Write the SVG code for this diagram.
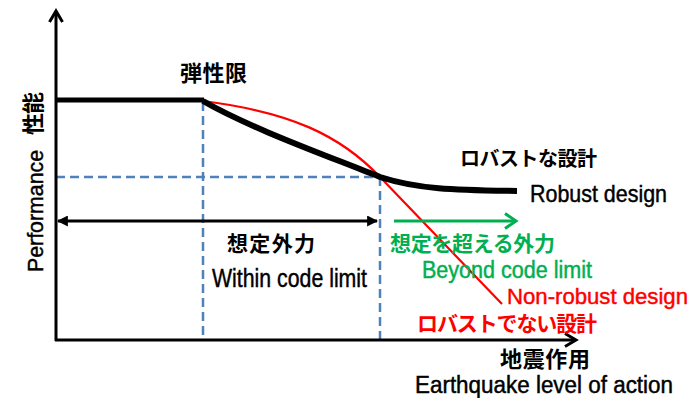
<svg xmlns="http://www.w3.org/2000/svg" width="693" height="398" viewBox="0 0 693 398">
  <style>
    .cjk { font-family: "Noto Sans CJK JP", "Noto Sans", sans-serif; font-weight: bold; }
    .en { font-family: "Liberation Sans", Arial, sans-serif; stroke-width: 0.45; }
    .axis { stroke: #000; stroke-width: 3; fill: none; }
    .dash { stroke: #4F81BD; stroke-width: 2.5; stroke-dasharray: 9 5; fill: none; }
    .blk { fill: #000; }
    .grn { fill: #00B050; }
    .red { fill: #FF0000; }
    .en.blk { stroke: #000; }
    .en.grn { stroke: #00B050; }
    .en.red { stroke: #FF0000; }
  </style>
  <defs>
    <marker id="tri" viewBox="0 0 10 10" refX="9" refY="5" markerUnits="userSpaceOnUse" markerWidth="11" markerHeight="11" orient="auto-start-reverse">
      <path d="M0,0 L10,5 L0,10 z" fill="#000"/>
    </marker>
  </defs>
  <rect width="693" height="398" fill="#fff"/>

  <g id="connectors">
    <!-- dashed guides -->
    <line class="dash" x1="203" y1="102" x2="203" y2="340"/>
    <line class="dash" x1="56" y1="177" x2="380" y2="177"/>
    <line class="dash" x1="380" y1="177" x2="380" y2="340"/>
    <!-- axes -->
    <line class="axis" x1="56" y1="341" x2="56" y2="12"/>
    <polyline class="axis" points="49.5,22 56,11 62.5,22"/>
    <line class="axis" x1="55" y1="340" x2="575" y2="340"/>
    <polyline class="axis" points="565,333.5 576,340 565,346.5"/>
    <!-- elastic plateau -->
    <line x1="56" y1="100" x2="204" y2="100" stroke="#000" stroke-width="5"/>
    <!-- non-robust curve -->
    <path d="M203,101 C290,112 340,135 380,177 L502,304" fill="none" stroke="#FF0000" stroke-width="2.2"/>
    <!-- robust curve -->
    <path d="M203,101 C250,128 320,153 380,177 C420,190 460,190 517,191" fill="none" stroke="#000" stroke-width="6"/>
    <!-- within code limit double arrow -->
    <line x1="58" y1="221" x2="377" y2="221" stroke="#000" stroke-width="3" marker-start="url(#tri)" marker-end="url(#tri)"/>
    <!-- beyond code limit arrow -->
    <line x1="394" y1="221" x2="515" y2="221" stroke="#00B050" stroke-width="3"/>
    <polyline points="505,213.5 516,221 505,228.5" fill="none" stroke="#00B050" stroke-width="3"/>
  </g>

  <g id="label-performance">
    <text class="en blk" font-size="22" transform="translate(43,272) rotate(-90)" textLength="122" lengthAdjust="spacingAndGlyphs">Performance</text>
    <text class="cjk blk" font-size="22" transform="translate(41,135) rotate(-90)" textLength="43">性能</text>
  </g>
  <g id="label-elastic">
    <text class="cjk blk" x="180" y="81" font-size="22" textLength="67">弾性限</text>
  </g>
  <g id="label-robust">
    <text class="cjk blk" x="460" y="166" font-size="20" textLength="137">ロバストな設計</text>
    <text class="en blk" x="530" y="202" font-size="24" textLength="137" lengthAdjust="spacingAndGlyphs">Robust design</text>
  </g>
  <g id="label-within">
    <text class="cjk blk" x="227" y="251" font-size="21" textLength="88">想定外力</text>
    <text class="en blk" x="212" y="287" font-size="26" textLength="155" lengthAdjust="spacingAndGlyphs">Within code limit</text>
  </g>
  <g id="label-beyond">
    <text class="cjk grn" x="390" y="251" font-size="21" textLength="165">想定を超える外力</text>
    <text class="en grn" x="422" y="278" font-size="23" textLength="170" lengthAdjust="spacingAndGlyphs">Beyond code limit</text>
  </g>
  <g id="label-nonrobust">
    <text class="en red" x="507" y="304" font-size="22" textLength="181" lengthAdjust="spacingAndGlyphs">Non-robust design</text>
    <text class="cjk red" x="417" y="331" font-size="21" textLength="180">ロバストでない設計</text>
  </g>
  <g id="label-earthquake">
    <text class="cjk blk" x="500" y="367" font-size="22" textLength="90">地震作用</text>
    <text class="en blk" x="415" y="393" font-size="23" textLength="258" lengthAdjust="spacingAndGlyphs">Earthquake level of action</text>
  </g>
</svg>
